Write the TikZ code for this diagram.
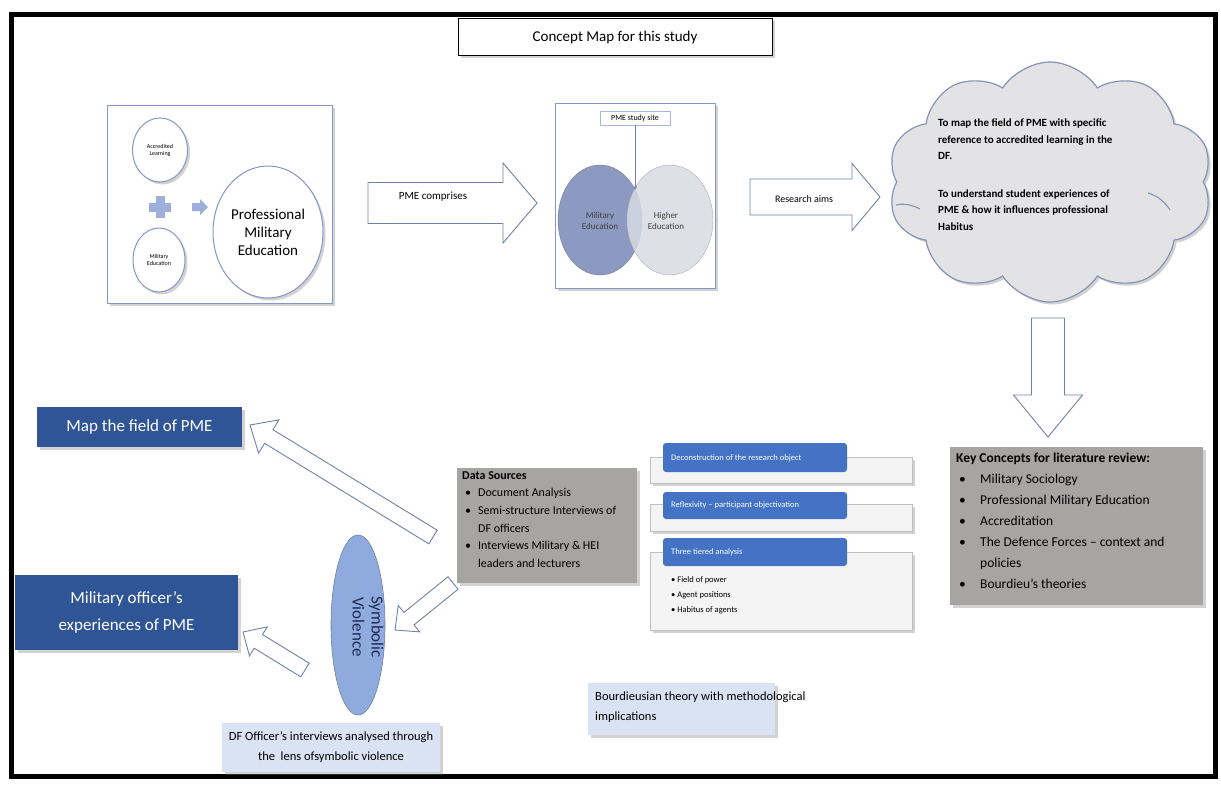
\documentclass[tikz,border=0pt]{standalone}
\usepackage{fontspec}
\setmainfont{Carlito}
\usetikzlibrary{shapes.symbols,shapes.geometric,shadows,calc}

\definecolor{panelline}{HTML}{8497C8}
\definecolor{arrowc}{HTML}{7081A8}
\definecolor{darkblue}{HTML}{2F5597}
\definecolor{tabblue}{HTML}{4472C4}
\definecolor{boxgray}{HTML}{A7A4A4}
\definecolor{lightblue}{HTML}{DAE3F3}
\definecolor{ellblue}{HTML}{8FAADC}
\definecolor{milblue}{HTML}{8C9AC2}
\definecolor{higgray}{HTML}{D8DBE3}
\definecolor{cloudfill}{HTML}{E3E3E5}
\definecolor{cloudline}{HTML}{8593B5}
\definecolor{navy}{HTML}{1F2A55}
\definecolor{plusc}{HTML}{9CB0DB}
\definecolor{wfill}{HTML}{F4F4F4}

% block arrow from tail #2 to tip #3: shaft half width #4, head half width #5, head length #6
\newcommand{\blockarrow}[6][]{%
  \coordinate (ba-h) at ($(#3)!#6!(#2)$);
  \draw[hollowline,#1] ($(#2)!#4!90:(#3)$) -- ($(ba-h)!#4!90:(#3)$) -- ($(ba-h)!#5!90:(#3)$)
    -- (#3) -- ($(ba-h)!#5!-90:(#3)$) -- ($(ba-h)!#4!-90:(#3)$) -- ($(#2)!#4!-90:(#3)$) -- cycle;
}

\begin{document}
\begin{tikzpicture}[x=1pt,y=-1pt,
  softshadow/.style={drop shadow={opacity=0.35,shadow xshift=2.5pt,shadow yshift=-2.5pt}},
  titlebox/.style={draw=black,line width=0.9pt,fill=white,softshadow,inner sep=0pt,font=\fontsize{15}{18}\selectfont},
  panel/.style={draw=panelline,line width=1pt,fill=white,softshadow,inner sep=0pt},
  circ/.style={ellipse,draw=panelline,line width=1pt,fill=white,softshadow,inner sep=0pt,align=center},
  hollowline/.style={draw=arrowc,fill=white,line width=0.9pt,line join=miter},
  graybox/.style={draw=none,fill=boxgray,softshadow,inner sep=0pt},
  bluebox/.style={draw=none,fill=darkblue,softshadow,inner sep=0pt,text=white,align=center,font=\fontsize{17}{27}\selectfont},
  lightbox/.style={draw=none,fill=lightblue,softshadow,inner sep=0pt},
  wbox/.style={draw=black!25,fill=wfill,line width=0.6pt,softshadow,inner sep=0pt},
  tabbox/.style={draw=none,fill=tabblue,rounded corners=3pt,inner sep=0pt},
  tabtext/.style={inner sep=0pt,anchor=west,text=white,font=\fontsize{8.5}{10}\selectfont},
  plain/.style={inner sep=0pt,align=left}
]
\useasboundingbox (0,0) rectangle (1221,785);
\fill[white] (0,0) rectangle (1221,785);

% outer frame
\draw[line width=5pt] (11,14) rectangle (1215,776);

% title
\node[titlebox,minimum width=314,minimum height=37] (title) at (615,37) {Concept Map for this study};

% --- panel: what PME is made of
\node[panel,minimum width=225,minimum height=198] (pmebox) at (219.5,204) {};
\node[circ,minimum width=55,minimum height=64,font=\fontsize{6}{7}\selectfont] (acc) at (160,150) {Accredited\\Learning};
\node[circ,minimum width=52,minimum height=64,font=\fontsize{6}{7}\selectfont] (milc) at (159,260) {Military\\Education};
\node[circ,minimum width=110,minimum height=132,font=\fontsize{15}{18}\selectfont] (pmec) at (268,232) {Professional\\Military\\Education};
\fill[plusc] (155.5,196) rectangle (164.5,218);
\fill[plusc] (149,202.5) rectangle (171,211.5);
\coordinate (pa-tail) at (192,207);
\coordinate (pa-tip) at (208,207);
\blockarrow[draw=none,fill=plusc]{pa-tail}{pa-tip}{4pt}{8pt}{8pt}

% arrow: PME comprises
\coordinate (c-tail) at (368,203);
\coordinate (c-tip) at (537,203);
\blockarrow{c-tail}{c-tip}{20.5pt}{40pt}{34pt}
\node[plain,font=\fontsize{11}{13}\selectfont] (comprisestxt) at (433,197) {PME comprises};

% --- panel: study site
\node[panel,minimum width=160,minimum height=185] (sitebox) at (635,195.5) {};
\node[ellipse,fill=milblue,draw=milblue!80!black,line width=0.4pt,minimum width=84,minimum height=110,inner sep=0pt] (milE) at (600,220) {};
\node[ellipse,fill=higgray,fill opacity=0.85,draw=higgray!80!black,line width=0.4pt,minimum width=86,minimum height=110,inner sep=0pt] (higE) at (670,220) {};
\node[plain,align=center,font=\fontsize{9}{11}\selectfont,text=black!75] (miltxt) at (600,221) {Military\\Education};
\node[plain,align=center,font=\fontsize{9}{11}\selectfont,text=black!75] (higtxt) at (666,221) {Higher\\Education};
\node[draw=panelline!70,fill=white,line width=0.6pt,inner sep=0pt,minimum width=70,minimum height=14,font=\fontsize{8}{9}\selectfont] (site) at (635,118) {PME study site};
\coordinate (siteend) at (635,190);
\draw[arrowc,line width=0.8pt,-stealth] (site.south) -- (siteend);

% arrow: research aims
\coordinate (r-tail) at (750,197);
\coordinate (r-tip) at (880,197);
\blockarrow{r-tail}{r-tip}{18pt}{33.5pt}{28pt}
\node[plain,font=\fontsize{10}{12}\selectfont] (aimsarrowtxt) at (804,199) {Research aims};

% cloud with the research aims
\node[cloud,cloud puffs=10,cloud puff arc=115,aspect=1.35,minimum width=325,minimum height=240,fill=cloudfill,draw=cloudline,line width=1.2pt,softshadow] (aims) at (1050,182) {};
\draw[cloudline,line width=1.1pt] (896,205) .. controls (904,203) and (912,205) .. (920,209);
\draw[cloudline,line width=1.1pt] (1148,193) .. controls (1158,196) and (1165,202) .. (1170,210);
\node[plain,anchor=north west,font=\bfseries\fontsize{11}{16.5}\selectfont] (aimstxt) at (938,119)
  {To map the field of PME with specific\\reference to accredited learning in the\\DF.\\[21pt]To understand student experiences of\\PME \& how it influences professional\\Habitus};

% arrow down to key concepts
\coordinate (k-tail) at (1048,318);
\coordinate (k-tip) at (1048,437);
\blockarrow{k-tail}{k-tip}{16.5pt}{34.5pt}{42pt}

% key concepts
\node[graybox,minimum width=253,minimum height=158] (keybox) at (1076.5,526) {};
\node[plain,anchor=north west,font=\fontsize{13.5}{21}\selectfont] (keytxt) at (956,453)
  {\textbf{Key Concepts for literature review:}\\
   \hspace{3pt}\makebox[21pt][l]{\textbullet}Military Sociology\\
   \hspace{3pt}\makebox[21pt][l]{\textbullet}Professional  Military Education\\
   \hspace{3pt}\makebox[21pt][l]{\textbullet}Accreditation\\
   \hspace{3pt}\makebox[21pt][l]{\textbullet}The Defence Forces -- context and\\
   \hspace{24pt}policies\\
   \hspace{3pt}\makebox[21pt][l]{\textbullet}Bourdieu's theories};

% outcomes
\node[bluebox,minimum width=205,minimum height=40] (mapbox) at (139.5,427) {Map the field of PME};
\node[bluebox,minimum width=223,minimum height=75] (offbox) at (126.5,612.5) {Military officer's\\experiences of PME};

% symbolic violence
\node[ellipse,fill=ellblue,draw=ellblue!75!black,line width=0.6pt,minimum width=54,minimum height=180,inner sep=0pt] (symv) at (358,625) {};
\node[plain,rotate=-90,align=center,text=navy,font=\fontsize{17}{19}\selectfont] (symvtxt) at (368,627) {Symbolic\\Violence};

% data sources
\node[graybox,minimum width=180,minimum height=115] (data) at (547,525.5) {};
\node[plain,anchor=north west,font=\fontsize{12}{17.7}\selectfont] (datatxt) at (462,471)
  {\textbf{Data Sources}\\
   \hspace{3pt}\makebox[13pt][l]{\textbullet}Document Analysis\\
   \hspace{3pt}\makebox[13pt][l]{\textbullet}Semi-structure Interviews of\\
   \hspace{16pt}DF officers\\
   \hspace{3pt}\makebox[13pt][l]{\textbullet}Interviews Military \& HEI\\
   \hspace{16pt}leaders and lecturers};

% arrows from the data sources and from symbolic violence
\coordinate (d1) at (433,537);
\coordinate (m1) at (250,425);
\blockarrow{d1}{m1}{8pt}{19.5pt}{22pt}
\coordinate (d2) at (453,583);
\coordinate (v1) at (395,630);
\blockarrow{d2}{v1}{8pt}{17pt}{18pt}
\coordinate (s1) at (305,670);
\coordinate (o1) at (243,632);
\blockarrow{s1}{o1}{8pt}{17pt}{18pt}

% interviews lens
\node[lightbox,minimum width=218,minimum height=49,align=center,font=\fontsize{12.5}{20}\selectfont] (lens) at (331,747.5) {DF Officer's interviews analysed through\\the~ lens ofsymbolic violence};

% methodological steps
\node[wbox,minimum width=262,minimum height=26] (w1) at (781,470) {};
\node[tabbox,minimum width=184,minimum height=29] (t1) at (755,457.5) {};
\node[tabtext] (t1txt) at (671,458) {Deconstruction of the research object};
\node[wbox,minimum width=262,minimum height=27] (w2) at (781,517.5) {};
\node[tabbox,minimum width=184,minimum height=27] (t2) at (755,505.5) {};
\node[tabtext] (t2txt) at (671,505.5) {Reflexivity -- participant objectivation};
\node[wbox,minimum width=262,minimum height=78] (w3) at (781,591) {};
\node[tabbox,minimum width=184,minimum height=28] (t3) at (755,552) {};
\node[tabtext] (t3txt) at (671,552) {Three tiered analysis};
\node[plain,anchor=north west,font=\fontsize{8.5}{15}\selectfont] (tiers) at (671,576)
  {\textbullet\ Field of power\\\textbullet\ Agent positions\\\textbullet\ Habitus of agents};

% theory box
\node[lightbox,minimum width=187,minimum height=52] (theory) at (681.5,709) {};
\node[plain,anchor=north west,font=\fontsize{12.5}{20}\selectfont] (theorytxt) at (595,692) {Bourdieusian theory with methodological\\implications};
\end{tikzpicture}
\end{document}
